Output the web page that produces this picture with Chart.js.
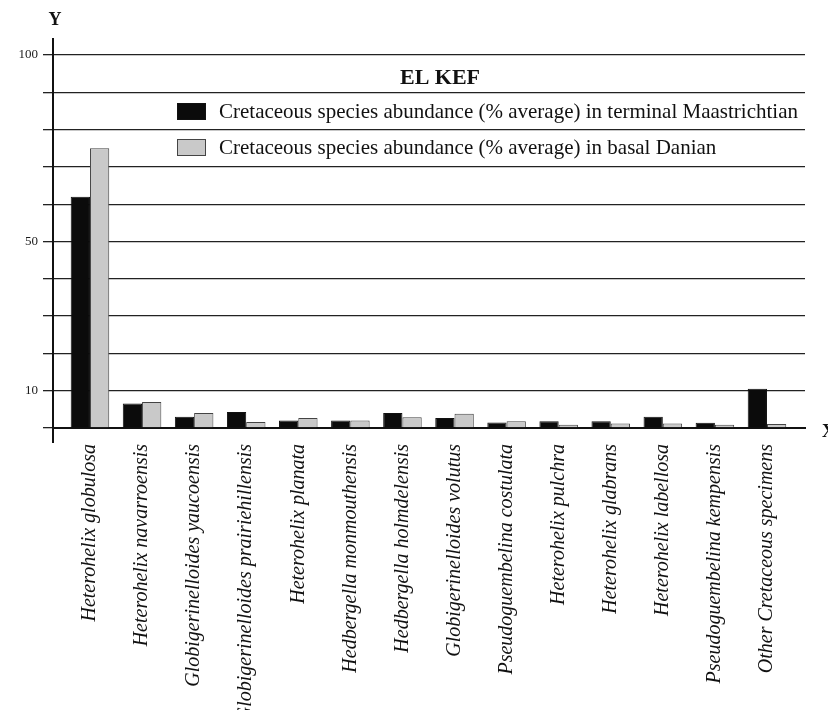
<!DOCTYPE html>
<html>
<head>
<meta charset="utf-8">
<script src="https://cdn.jsdelivr.net/npm/chart.js@4/dist/chart.umd.min.js"></script>
<style>
html,body{margin:0;padding:0;background:#fff;}
#wrap{width:828px;height:710px;position:relative;}
</style>
</head>
<body>
<div id="wrap"><canvas id="c" width="828" height="710"></canvas></div>
<script>
const categories = [
  "Heterohelix globulosa",
  "Heterohelix navarroensis",
  "Globigerinelloides yaucoensis",
  "Globigerinelloides prairiehillensis",
  "Heterohelix planata",
  "Hedbergella monmouthensis",
  "Hedbergella holmdelensis",
  "Globigerinelloides volutus",
  "Pseudoguembelina costulata",
  "Heterohelix pulchra",
  "Heterohelix glabrans",
  "Heterohelix labellosa",
  "Pseudoguembelina kempensis",
  "Other Cretaceous specimens"
];
const maastrichtian = [62, 6.6, 3.0, 4.3, 2.0, 2.0, 4.0, 2.7, 1.5, 1.8, 1.8, 3.0, 1.4, 10.5];
const danian        = [75, 7.0, 4.0, 1.6, 2.7, 2.0, 2.9, 3.8, 1.8, 0.9, 1.2, 1.2, 0.9, 1.1];
const yLabelValues  = [10, 50, 100];
const chartTitle = "EL KEF";
const seriesNames = [
  "Cretaceous species abundance (% average) in terminal Maastrichtian",
  "Cretaceous species abundance (% average) in basal Danian"
];

const SERIF = "'Liberation Serif', 'DejaVu Serif', serif";

const overlay = {
  id: 'overlay',
  afterDraw(chart) {
    const ctx = chart.ctx;
    const ya = chart.scales.y;
    const ca = chart.chartArea;
    ctx.save();
    // extend y axis line below baseline
    ctx.strokeStyle = '#111';
    ctx.lineWidth = 2;
    ctx.beginPath();
    ctx.moveTo(ca.left, ca.bottom);
    ctx.lineTo(ca.left, ca.bottom + 15);
    ctx.stroke();
    // axis letters
    ctx.fillStyle = '#111';
    ctx.font = "bold 18px " + SERIF;
    ctx.textAlign = 'center';
    ctx.textBaseline = 'middle';
    ctx.fillText('Y', ca.left + 2, 20);
    ctx.textAlign = 'left';
    ctx.fillText('X', ca.right + 17, ya.getPixelForValue(0) + 4);
    // title
    ctx.font = "bold 22px " + SERIF;
    ctx.textAlign = 'center';
    ctx.fillText(chartTitle, 440, 78);
    // legend
    const ds = chart.data.datasets;
    const rows = [112, 148];
    ds.forEach((d, i) => {
      const yc = rows[i];
      ctx.fillStyle = d.backgroundColor;
      ctx.fillRect(177, yc - 9, 29, 17);
      ctx.strokeStyle = d.borderColor;
      ctx.lineWidth = 1;
      ctx.strokeRect(177.5, yc - 8.5, 28, 16);
      ctx.fillStyle = '#111';
      ctx.font = "21px " + SERIF;
      ctx.textAlign = 'left';
      ctx.textBaseline = 'middle';
      ctx.fillText(d.label, 219, yc);
    });
    ctx.restore();
  }
};

new Chart(document.getElementById('c'), {
  type: 'bar',
  data: {
    datasets: [
      {
        label: seriesNames[0],
        data: maastrichtian.map((v, i) => ({x: i, y: v})),
        backgroundColor: '#0b0b0b',
        borderColor: '#111',
        borderWidth: 1,
        categoryPercentage: 0.74,
        barPercentage: 1.0
      },
      {
        label: seriesNames[1],
        data: danian.map((v, i) => ({x: i, y: v})),
        backgroundColor: '#c9c9c9',
        borderColor: '#444',
        borderWidth: 1,
        categoryPercentage: 0.74,
        barPercentage: 1.0
      }
    ]
  },
  options: {
    responsive: false,
    animation: false,
    devicePixelRatio: 1,
    layout: { padding: { top: 39, right: 23, left: 0, bottom: 0 } },
    plugins: {
      legend: { display: false },
      title: { display: false },
      tooltip: { enabled: false }
    },
    scales: {
      x: {
        type: 'linear',
        min: -0.71,
        max: 13.73,
        offset: false,
        grid: { display: false, drawTicks: false },
        border: { display: true, color: '#111', width: 2 },
        afterBuildTicks(s) {
          s.ticks = categories.map((c, i) => ({ value: i }));
        },
        afterFit(s) { s.height = 710 - 428; },
        ticks: {
          autoSkip: false,
          maxRotation: 90,
          minRotation: 90,
          padding: 16,
          color: '#111',
          font: { family: SERIF, size: 20, style: 'italic' },
          callback: (v) => categories[v] !== undefined ? categories[v] : ''
        }
      },
      y: {
        min: 0,
        max: 104.3,
        afterBuildTicks(s) {
          s.ticks = s.ticks.filter(t => Math.abs(t.value % 10) < 1e-6);
        },
        afterFit(s) { s.width = 53; },
        grid: {
          color: '#222',
          lineWidth: 1.3,
          drawTicks: true,
          tickLength: 10
        },
        border: { display: true, color: '#111', width: 2 },
        ticks: {
          stepSize: 10,
          padding: 5,
          color: '#1a1a1a',
          font: { family: SERIF, size: 13 },
          callback: (v) => yLabelValues.includes(v) ? String(v) : ''
        }
      }
    }
  },
  plugins: [overlay]
});
</script>
</body>
</html>
